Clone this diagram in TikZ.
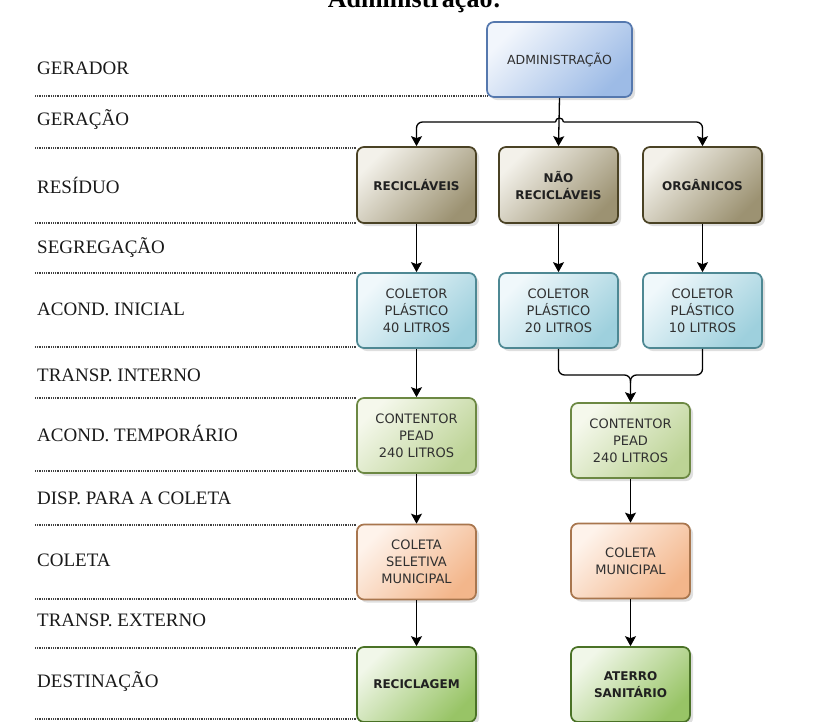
\documentclass[tikz,border=0pt]{standalone}
\usepackage{fontspec}
\setmainfont{Liberation Serif}
\newfontfamily\boxfont{DejaVu Sans}
\usetikzlibrary{shadows,arrows.meta,calc}
\definecolor{boxtext}{HTML}{303030}
\definecolor{boldtext}{HTML}{202020}
\definecolor{admA}{HTML}{F2F6FC}\definecolor{admB}{HTML}{9DBBE6}\definecolor{admD}{HTML}{5578AE}
\definecolor{resA}{HTML}{F3F1EA}\definecolor{resB}{HTML}{9C9272}\definecolor{resD}{HTML}{4A4224}
\definecolor{colA}{HTML}{F0F8FB}\definecolor{colB}{HTML}{9ED0DD}\definecolor{colD}{HTML}{4E8893}
\definecolor{conA}{HTML}{F5F8EC}\definecolor{conB}{HTML}{BCD395}\definecolor{conD}{HTML}{6C8843}
\definecolor{cltA}{HTML}{FEF3EB}\definecolor{cltB}{HTML}{F3B68B}\definecolor{cltD}{HTML}{A8764E}
\definecolor{dstA}{HTML}{F1F7E9}\definecolor{dstB}{HTML}{98C466}\definecolor{dstD}{HTML}{4A7226}
\begin{document}
\begin{tikzpicture}[x=1pt,y=-1pt,
  box/.style={draw, rounded corners=7pt, line width=1.7pt, minimum width=119pt,
    minimum height=75pt, align=center, inner sep=2pt,
    font=\boxfont\fontsize{13}{17}\selectfont, text=boxtext,
    drop shadow={opacity=0.25, shadow xshift=3pt, shadow yshift=-3pt}},
  bt/.style={font=\boxfont\bfseries\fontsize{12}{17}\selectfont, text=boldtext},
  admc/.style={draw=admD, top color=admA, bottom color=admB, shading angle=45},
  resc/.style={draw=resD, top color=resA, bottom color=resB, shading angle=45},
  colc/.style={draw=colD, top color=colA, bottom color=colB, shading angle=45},
  conc/.style={draw=conD, top color=conA, bottom color=conB, shading angle=45},
  cltc/.style={draw=cltD, top color=cltA, bottom color=cltB, shading angle=45},
  dstc/.style={draw=dstD, top color=dstA, bottom color=dstB, shading angle=45},
  lab/.style={anchor=west, inner sep=0pt, font=\fontsize{19}{19}\selectfont, text=black!90},
  dotline/.style={line width=1.3pt, black!75, dash pattern=on 0.9pt off 0.9pt},
  arr/.style={line width=1.3pt, -{Stealth[length=10pt,width=11pt,inset=2pt]}},
  ln/.style={line width=1.3pt}
]
\useasboundingbox (0,0) rectangle (817,721);
\fill[white] (0,0) rectangle (817,721);

% title (partly cut off, as in the reference)
\node[anchor=base, inner sep=0pt, font=\bfseries\fontsize{26}{26}\selectfont] (title) at (414.5,7) {Administração:};

% row labels
\node[lab] (l1) at (37,68) {GERADOR};
\node[lab] (l2) at (37,120) {GERAÇÃO};
\node[lab] (l3) at (37,185) {RESÍDUO};
\node[lab] (l4) at (37,248) {SEGREGAÇÃO};
\node[lab] (l5) at (37,309) {ACOND. INICIAL};
\node[lab] (l6) at (37,375) {TRANSP. INTERNO};
\node[lab] (l7) at (37,433) {ACOND. TEMPORÁRIO};
\node[lab] (l8) at (37,498) {DISP. PARA A COLETA};
\node[lab] (l9) at (37,560) {COLETA};
\node[lab] (l10) at (37,620) {TRANSP. EXTERNO};
\node[lab] (l11) at (37,682) {DESTINAÇÃO};

% dotted separators
\draw[dotline] (35,96) -- (487,96);
\foreach \yy in {148,223,273,347,398,471,525,599,648,719}
  \draw[dotline] (35,\yy) -- (357,\yy);

% boxes
\node[box, admc, minimum width=145pt, font=\boxfont\fontsize{12.5}{17}\selectfont] (adm) at (559.5,59.5) {ADMINISTRAÇÃO};

\node[box, resc, bt, minimum height=76pt] (r1) at (416.5,185) {RECICLÁVEIS};
\node[box, resc, bt, minimum height=76pt] (r2) at (558.5,185) {NÃO\\RECICLÁVEIS};
\node[box, resc, bt, minimum height=76pt] (r3) at (702.5,185) {ORGÂNICOS};

\node[box, colc] (c1) at (416.5,310.5) {COLETOR\\PLÁSTICO\\40 LITROS};
\node[box, colc] (c2) at (558.5,310.5) {COLETOR\\PLÁSTICO\\20 LITROS};
\node[box, colc] (c3) at (702.5,310.5) {COLETOR\\PLÁSTICO\\10 LITROS};

\node[box, conc] (t1) at (416.5,435.5) {CONTENTOR\\PEAD\\240 LITROS};
\node[box, conc] (t2) at (630.5,440.5) {CONTENTOR\\PEAD\\240 LITROS};

\node[box, cltc] (k1) at (416.5,562) {COLETA\\SELETIVA\\MUNICIPAL};
\node[box, cltc] (k2) at (630.5,561) {COLETA\\MUNICIPAL};

\node[box, dstc, bt] (d1) at (416.5,684.5) {RECICLAGEM};
\node[box, dstc, bt] (d2) at (630.5,684.5) {ATERRO\\SANITÁRIO};

% connectors: administration to residues
\coordinate (hb) at (559.5,122);
\draw[arr] (adm.south) -- (r2.north);
\draw[arr, rounded corners=6pt] ($(hb)+(-4,0)$) -| (r1.north);
\draw[arr, rounded corners=6pt] ($(hb)+(4,0)$) -| (r3.north);
\draw[ln] ($(hb)+(-4,0)$) arc[start angle=180, end angle=0, radius=4pt];

% residues to collectors
\draw[arr] (r1.south) -- (c1.north);
\draw[arr] (r2.south) -- (c2.north);
\draw[arr] (r3.south) -- (c3.north);

% left column
\draw[arr] (c1.south) -- (t1.north);
\draw[arr] (t1.south) -- (k1.north);
\draw[arr] (k1.south) -- (d1.north);

% right column bracket
\coordinate (mb) at (630.5,375);
\draw[ln, rounded corners=6pt] (c2.south) |- (mb) -- ($(mb)+(0,8)$);
\draw[arr, rounded corners=6pt] (c3.south) |- (mb) -- (t2.north);
\draw[arr] (t2.south) -- (k2.north);
\draw[arr] (k2.south) -- (d2.north);
\end{tikzpicture}
\end{document}
